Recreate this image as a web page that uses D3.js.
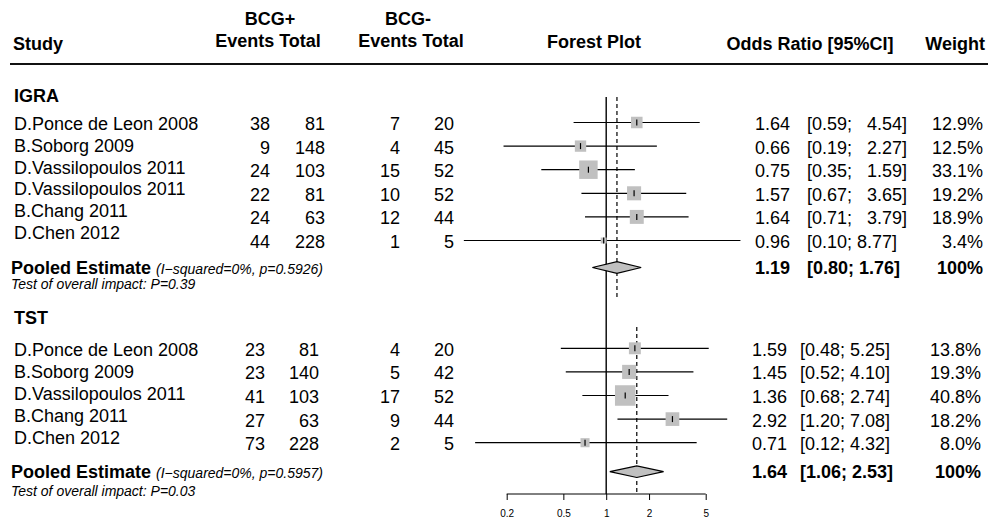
<!DOCTYPE html>
<html>
<head>
<meta charset="utf-8">
<script src="https://cdn.jsdelivr.net/npm/d3@7"></script>
<style>
  html, body { margin: 0; padding: 0; background: #fff; }
  svg { display: block; }
  text { font-family: "Liberation Sans", Arial, sans-serif; fill: #000; white-space: pre; }
</style>
</head>
<body>
<svg id="chart" width="1000" height="519"></svg>
<script>
// ---------------- data ----------------
const igraStudies = ["D.Ponce de Leon 2008", "B.Soborg 2009", "D.Vassilopoulos 2011", "D.Vassilopoulos 2011", "B.Chang 2011", "D.Chen 2012"];
const igraEventsPos = [38, 9, 24, 22, 24, 44];
const igraTotalPos  = [81, 148, 103, 81, 63, 228];
const igraEventsNeg = [7, 4, 15, 10, 12, 1];
const igraTotalNeg  = [20, 45, 52, 52, 44, 5];
const igraOR    = [1.64, 0.66, 0.75, 1.57, 1.64, 0.96];
const igraLower = [0.59, 0.19, 0.35, 0.67, 0.71, 0.10];
const igraUpper = [4.54, 2.27, 1.59, 3.65, 3.79, 8.77];
const igraWeight = [12.9, 12.5, 33.1, 19.2, 18.9, 3.4];
const igraCiGap = [3, 3, 3, 3, 3, 1];
const igraPooled = { or: 1.19, lower: 0.80, upper: 1.76, i2: "0%", p: "0.5926", overall: "0.39" };

const tstStudies = ["D.Ponce de Leon 2008", "B.Soborg 2009", "D.Vassilopoulos 2011", "B.Chang 2011", "D.Chen 2012"];
const tstEventsPos = [23, 23, 41, 27, 73];
const tstTotalPos  = [81, 140, 103, 63, 228];
const tstEventsNeg = [4, 5, 17, 9, 2];
const tstTotalNeg  = [20, 42, 52, 44, 5];
const tstOR    = [1.59, 1.45, 1.36, 2.92, 0.71];
const tstLower = [0.48, 0.52, 0.68, 1.20, 0.12];
const tstUpper = [5.25, 4.10, 2.74, 7.08, 4.32];
const tstWeight = [13.8, 19.3, 40.8, 18.2, 8.0];
const tstCiGap = [1, 1, 1, 1, 1];
const tstPooled = { or: 1.64, lower: 1.06, upper: 2.53, i2: "0%", p: "0.5957", overall: "0.03" };

const tickValues = [0.2, 0.5, 1, 2, 5];
const tickLabels = ["0.2", "0.5", "1", "2", "5"];

// ---------------- layout ----------------
const svg = d3.select("#chart");
const FONT = 18;

const x = d3.scaleLog().domain([0.2, 5]).range([506.7, 705.7]);
const sq = d3.scaleSqrt().domain([0, 40.8]).range([0, 20.5]);

const groups = [
  { name: "IGRA", headerY: 101.7, firstY: 122.5, step: 23.6, nameStep: 21.8, pooledOffset: 27, testGap: 14.5,
    studies: igraStudies, ep: igraEventsPos, tp: igraTotalPos, en: igraEventsNeg, tn: igraTotalNeg,
    or: igraOR, lo: igraLower, hi: igraUpper, w: igraWeight, gap: igraCiGap, pooled: igraPooled,
    numX: [270, 325, 400, 454], orX: 790, ciX: 807, wX: 983, dashTop: 97, dashBottom: 299 },
  { name: "TST", headerY: 324, firstY: 348.3, step: 23.6, nameStep: 22, pooledOffset: 29, testGap: 18,
    studies: tstStudies, ep: tstEventsPos, tp: tstTotalPos, en: tstEventsNeg, tn: tstTotalNeg,
    or: tstOR, lo: tstLower, hi: tstUpper, w: tstWeight, gap: tstCiGap, pooled: tstPooled,
    numX: [265, 319, 400, 454], orX: 787, ciX: 800, wX: 981, dashTop: 327, dashBottom: 492 }
];

// ---------------- header ----------------
const hdr = svg.append("g").style("font-weight", "bold").style("font-size", FONT + "px");
hdr.append("text").attr("x", 13).attr("y", 50).text("Study");
hdr.append("text").attr("x", 270).attr("y", 25).attr("text-anchor", "middle").text("BCG+");
hdr.append("text").attr("x", 268).attr("y", 47).attr("text-anchor", "middle").text("Events Total");
hdr.append("text").attr("x", 408).attr("y", 25).attr("text-anchor", "middle").text("BCG-");
hdr.append("text").attr("x", 411).attr("y", 47).attr("text-anchor", "middle").text("Events Total");
hdr.append("text").attr("x", 594).attr("y", 48).attr("text-anchor", "middle").text("Forest Plot");
hdr.append("text").attr("x", 810).attr("y", 50).attr("text-anchor", "middle").text("Odds Ratio [95%CI]");
hdr.append("text").attr("x", 985).attr("y", 50).attr("text-anchor", "end").text("Weight");
svg.append("line").attr("x1", 10).attr("x2", 988).attr("y1", 64).attr("y2", 64)
  .attr("stroke", "#111").attr("stroke-width", 2);

// ---------------- reference line & axis ----------------
const axisY = 494;
svg.append("line").attr("x1", x(1)).attr("x2", x(1)).attr("y1", 97).attr("y2", axisY)
  .attr("stroke", "#000").attr("stroke-width", 1.4);

const axisG = svg.append("g").attr("transform", `translate(0,${axisY})`)
  .call(d3.axisBottom(x).tickValues(tickValues).tickFormat((d, i) => tickLabels[i]).tickSizeOuter(0).tickSize(6).tickPadding(10));
axisG.select(".domain").attr("stroke", "#000").attr("d", `M${x(0.2)},0H${x(5)}`);
axisG.selectAll(".tick line").attr("stroke", "#000");
axisG.selectAll(".tick text").style("font-size", "10px").style("font-family", '"Liberation Sans", Arial, sans-serif');

// ---------------- groups ----------------
groups.forEach(g => {
  const n = g.studies.length;
  const yRow = d3.scaleLinear().domain([0, 1]).range([g.firstY, g.firstY + g.step]);
  const yName = d3.scaleLinear().domain([0, 1]).range([g.firstY + 7.5, g.firstY + 7.5 + g.nameStep]);
  const pooledY = yRow(n - 1) + g.pooledOffset;

  // dashed pooled line
  svg.append("line").attr("x1", x(g.pooled.or)).attr("x2", x(g.pooled.or))
    .attr("y1", g.dashTop).attr("y2", g.dashBottom)
    .attr("stroke", "#000").attr("stroke-width", 1.2).attr("stroke-dasharray", "4,3");

  svg.append("text").attr("x", 14).attr("y", g.headerY)
    .style("font-weight", "bold").style("font-size", FONT + "px").text(g.name);

  const idx = d3.range(n);
  const rows = svg.append("g").style("font-size", FONT + "px");

  rows.selectAll(".name").data(idx).join("text")
    .attr("x", 14).attr("y", i => yName(i)).text(i => g.studies[i]);

  const cols = [g.ep, g.tp, g.en, g.tn];
  cols.forEach((arr, c) => {
    rows.selectAll(".c" + c).data(idx).join("text")
      .attr("x", g.numX[c]).attr("y", i => yRow(i) + 7.5)
      .attr("text-anchor", "end").text(i => arr[i]);
  });

  rows.selectAll(".or").data(idx).join("text")
    .attr("x", g.orX).attr("y", i => yRow(i) + 7.5).attr("text-anchor", "end")
    .text(i => g.or[i].toFixed(2));
  rows.selectAll(".ci").data(idx).join("text")
    .attr("x", g.ciX).attr("y", i => yRow(i) + 7.5)
    .text(i => "[" + g.lo[i].toFixed(2) + ";" + " ".repeat(g.gap[i]) + g.hi[i].toFixed(2) + "]");
  rows.selectAll(".wt").data(idx).join("text")
    .attr("x", g.wX).attr("y", i => yRow(i) + 7.5).attr("text-anchor", "end")
    .text(i => g.w[i].toFixed(1) + "%");

  // CI lines
  const marks = svg.append("g");
  marks.selectAll(".ciline").data(idx).join("line")
    .attr("x1", i => x(g.lo[i])).attr("x2", i => x(g.hi[i]))
    .attr("y1", i => yRow(i)).attr("y2", i => yRow(i))
    .attr("stroke", "#000").attr("stroke-width", 1.2);
  marks.selectAll(".box").data(idx).join("rect")
    .attr("x", i => x(g.or[i]) - sq(g.w[i]) / 2)
    .attr("y", i => yRow(i) - sq(g.w[i]) / 2)
    .attr("width", i => sq(g.w[i])).attr("height", i => sq(g.w[i]))
    .attr("fill", "#c0c0c0");
  marks.selectAll(".tickm").data(idx).join("line")
    .attr("x1", i => x(g.or[i])).attr("x2", i => x(g.or[i]))
    .attr("y1", i => yRow(i) - 3).attr("y2", i => yRow(i) + 3)
    .attr("stroke", "#000").attr("stroke-width", 1.2);

  // pooled diamond
  const p = g.pooled;
  const h = 5.8;
  svg.append("path")
    .attr("d", `M${x(p.lower)},${pooledY}L${x(p.or)},${pooledY - h}L${x(p.upper)},${pooledY}L${x(p.or)},${pooledY + h}Z`)
    .attr("fill", "#c0c0c0").attr("stroke", "#000").attr("stroke-width", 1.2);

  const pb = pooledY + 6.5;
  const pt = svg.append("text").attr("x", 11).attr("y", pb);
  pt.append("tspan").style("font-weight", "bold").style("font-size", FONT + "px").text("Pooled Estimate ");
  pt.append("tspan").style("font-style", "italic").style("font-size", "14px")
    .text("(I\u2212squared=" + p.i2 + ", p=" + p.p + ")");
  svg.append("text").attr("x", 11).attr("y", pb + g.testGap)
    .style("font-style", "italic").style("font-size", "14px")
    .text("Test of overall impact: P=" + p.overall);

  const pg = svg.append("g").style("font-weight", "bold").style("font-size", FONT + "px");
  pg.append("text").attr("x", g.orX).attr("y", pb).attr("text-anchor", "end").text(p.or.toFixed(2));
  pg.append("text").attr("x", g.ciX).attr("y", pb).text("[" + p.lower.toFixed(2) + "; " + p.upper.toFixed(2) + "]");
  pg.append("text").attr("x", g.wX).attr("y", pb).attr("text-anchor", "end").text("100%");
});
</script>
</body>
</html>
